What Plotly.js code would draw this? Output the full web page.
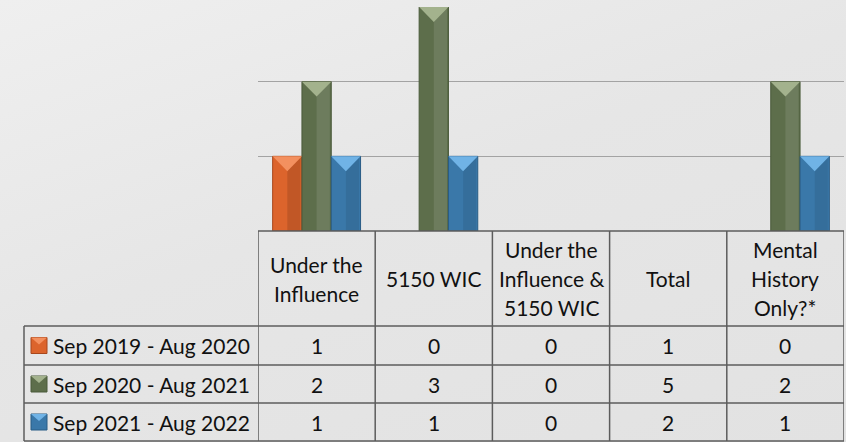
<!DOCTYPE html>
<html>
<head>
<meta charset="utf-8">
<script src="https://cdn.plot.ly/plotly-3.0.1.min.js"></script>
<style>
  html, body { margin: 0; padding: 0; }
  body {
    width: 846px; height: 442px; overflow: hidden;
    background: linear-gradient(160deg, #efefef 0%, #e6e6e6 45%, #e2e2e2 100%);
  }
  #chart { width: 846px; height: 442px; }
</style>
</head>
<body>
<div id="chart"></div>
<script>
// categories as shown in the table header (<br> = line break in the cell)
const categories = [
  'Under the<br>Influence',
  '5150 WIC',
  'Under the<br>Influence &<br>5150 WIC',
  'Total',
  'Mental<br>History<br>Only?*'
];
// the Total column is only listed in the table, no bars are drawn for it
const barCategories = [true, true, true, false, true];

const seriesNames = ['Sep 2019 - Aug 2020', 'Sep 2020 - Aug 2021', 'Sep 2021 - Aug 2022'];
const sep2019 = [1, 0, 0, 1, 0];
const sep2020 = [2, 3, 0, 5, 2];
const sep2021 = [1, 1, 0, 2, 1];
const seriesValues = [sep2019, sep2020, sep2021];

const barColors = ['#dc642c', '#5d6e4b', '#3a78a9'];
const edgeColors = ['#a8471c', '#4a5a3a', '#295c85'];
const capColors = ['#f3905f', '#a3b28d', '#70b3e6'];
const shadeColors = ['rgba(0,0,0,0.12)', 'rgba(255,255,255,0.10)', 'rgba(0,0,0,0.08)'];

// page geometry (px)
const W = 846, H = 442;
const PLOT_L = 258, PLOT_R = 844, PLOT_T = 7, PLOT_B = 231;
const PLOT_W = PLOT_R - PLOT_L, PLOT_H = PLOT_B - PLOT_T;
const HEADER_B = 326;
const ROW_LINES = [326, 365, 403, 441];
const LEGEND_L = 24;
const LINE_H = 29;
const FONT = 'Lato, "Open Sans", sans-serif';
const GRID = '#a3a3a3';
const BORDER = '#5c5c5c';

const px = v => (v - PLOT_L) / PLOT_W;
const py = v => (PLOT_B - v) / PLOT_H;

const BAR_W = 0.25;
const offsets = [-0.375, -0.125, 0.125];
const idx = categories.map((c, i) => i);

const traces = [];
seriesValues.forEach((vals, s) => {
  const y = vals.map((v, i) => barCategories[i] && v ? v : null);
  traces.push({
    type: 'bar',
    name: seriesNames[s],
    x: idx,
    y: y,
    width: BAR_W,
    offset: offsets[s],
    marker: { color: barColors[s], line: { color: edgeColors[s], width: 1 } },
    hoverinfo: 'y',
    showlegend: false
  });
  // right-hand face of the bevel
  traces.push({
    type: 'bar',
    x: idx,
    y: y,
    width: BAR_W * 0.45,
    offset: offsets[s] + BAR_W * 0.5,
    marker: { color: shadeColors[s], line: { width: 0 } },
    hoverinfo: 'skip',
    showlegend: false
  });
});

// lighter top cap (bevel) of each bar
const capDepth = 0.2;
seriesValues.forEach((vals, s) => {
  const xs = [], ys = [];
  vals.forEach((v, i) => {
    if (!barCategories[i] || !v) return;
    const x0 = i + offsets[s], x1 = x0 + BAR_W;
    xs.push(x0, x1, (x0 + x1) / 2, x0, null);
    ys.push(v, v, v - capDepth, v, null);
  });
  traces.push({
    type: 'scatter', mode: 'lines', x: xs, y: ys,
    fill: 'toself', fillcolor: capColors[s],
    line: { width: 0 }, hoverinfo: 'skip', showlegend: false
  });
});

const shapes = [];
const annotations = [];
const line = (x0, y0, x1, y1, xref, color, width) => shapes.push({
  type: 'line', xref: xref, yref: 'paper', x0, y0, x1, y1,
  line: { color, width }
});

// table: horizontal borders
line(px(PLOT_L), 0, px(PLOT_R), 0, 'paper', BORDER, 1.5);
ROW_LINES.forEach(r => line(px(LEGEND_L), py(r), px(PLOT_R), py(r), 'paper', BORDER, 1.5));
// table: vertical borders
for (let i = 0; i <= categories.length; i++) {
  line(i - 0.5, 0, i - 0.5, py(ROW_LINES[ROW_LINES.length - 1]), 'x', BORDER, 1.5);
}
line(px(LEGEND_L), py(HEADER_B), px(LEGEND_L), py(ROW_LINES[ROW_LINES.length - 1]), 'paper', BORDER, 1.5);

const textFont = { family: FONT, size: 21, color: '#111111' };
const headerMid = (PLOT_B + HEADER_B) / 2;
categories.forEach((c, i) => {
  const parts = c.split('<br>');
  parts.forEach((t, k) => {
    annotations.push({
      x: i, y: py(headerMid + (k - (parts.length - 1) / 2) * LINE_H),
      xref: 'x', yref: 'paper',
      text: t, showarrow: false, font: textFont, yanchor: 'middle'
    });
  });
});
seriesValues.forEach((vals, s) => {
  const rc = (ROW_LINES[s] + ROW_LINES[s + 1]) / 2;
  const yc = py(rc);
  vals.forEach((v, i) => annotations.push({
    x: i, y: yc, xref: 'x', yref: 'paper', text: String(v),
    showarrow: false, font: textFont, yanchor: 'middle'
  }));
  annotations.push({
    x: px(51), y: yc, xref: 'paper', yref: 'paper', text: seriesNames[s],
    showarrow: false, font: textFont, xanchor: 'left', yanchor: 'middle'
  });
  shapes.push({
    type: 'rect', xref: 'paper', yref: 'paper',
    x0: px(31), x1: px(47), y0: py(rc + 8), y1: py(rc - 8),
    fillcolor: barColors[s], line: { color: edgeColors[s], width: 1 }
  });
  shapes.push({
    type: 'path', xref: 'paper', yref: 'paper',
    path: `M ${px(31)} ${py(rc - 8)} L ${px(47)} ${py(rc - 8)} L ${px(39)} ${py(rc - 1)} Z`,
    fillcolor: capColors[s], line: { width: 0 }
  });
});

const layout = {
  width: W, height: H,
  margin: { l: PLOT_L, r: W - PLOT_R, t: PLOT_T, b: H - PLOT_B },
  paper_bgcolor: 'rgba(0,0,0,0)',
  plot_bgcolor: 'rgba(0,0,0,0)',
  barmode: 'overlay',
  showlegend: false,
  xaxis: {
    type: 'linear', range: [-0.5, categories.length - 0.5],
    showticklabels: false, showgrid: false, zeroline: false, ticks: ''
  },
  yaxis: {
    range: [0, 3], dtick: 1, showticklabels: false, ticks: '',
    showgrid: true, gridcolor: GRID, gridwidth: 1.5, zeroline: false
  },
  shapes, annotations
};

Plotly.newPlot('chart', traces, layout, { displayModeBar: false, staticPlot: true });
</script>
</body>
</html>
